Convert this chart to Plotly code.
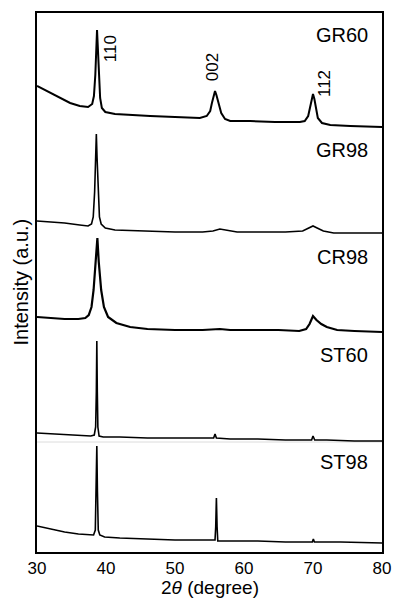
import plotly.graph_objects as go

# ---- data (2theta in degree, intensity in a.u. with stacking offsets) ----
gr60_x = [30.0, 31.9, 33.3, 34.8, 36.2, 37.4, 38.0, 38.25, 38.45, 38.6, 38.7, 38.8, 38.95, 39.15, 39.4,
          39.9, 41.3, 43.5, 46.4, 50.0, 53.6, 54.6, 55.1, 55.35, 55.65, 55.8, 56.0, 56.3, 56.7, 57.25,
          58.0, 60.9, 64.5, 68.1, 68.8, 69.3, 69.55, 69.85, 70.0, 70.2, 70.45, 70.7, 71.3, 72.5, 75.4, 80.0]
gr60_y = [466, 459, 454, 449, 446, 445, 448, 456, 477, 507, 522, 507, 477, 454, 444,
          440, 438, 437, 436, 435, 434, 436, 441, 449, 458, 461, 457, 448, 439, 433,
          431, 431, 430, 430, 431, 436, 444, 454, 458, 453, 442, 434, 429, 427, 426, 425]

gr98_x = [30.0, 32.0, 34.0, 36.2, 37.4, 37.9, 38.15, 38.35, 38.5, 38.6, 38.7, 38.85, 39.05, 39.3, 39.9,
          41.3, 45.0, 50.0, 54.0, 55.5, 56.5, 57.5, 59.0, 62.0, 66.0, 68.5, 69.5, 70.0, 70.6, 71.5,
          73.0, 76.0, 80.0]
gr98_y = [331, 330, 329, 327, 326, 328, 335, 360, 395, 418, 395, 360, 335, 328, 324,
          322, 321, 320, 320, 321, 323, 322, 320, 320, 320, 321, 324, 326, 324, 321,
          319, 319, 319]

cr98_x = [30.0, 32.0, 34.0, 36.0, 37.0, 37.5, 37.9, 38.2, 38.45, 38.65, 38.75, 38.95, 39.3, 39.7, 40.3,
          41.5, 43.5, 46.0, 50.0, 54.0, 56.5, 58.0, 62.0, 65.0, 68.0, 69.0, 69.5, 70.0, 70.5, 71.2,
          72.0, 73.5, 76.0, 80.0]
cr98_y = [235, 234, 233, 233, 234, 237, 245, 262, 290, 314, 314, 290, 262, 245, 235,
          229, 225, 223, 222, 222, 223, 222, 222, 222, 221, 223, 228, 236, 232, 228,
          225, 222, 221, 220]

st60_x = [30.0, 33.0, 36.0, 37.8, 38.3, 38.5, 38.6, 38.67, 38.74, 38.82, 39.0, 39.6, 42.0, 46.0, 50.0,
          54.0, 55.6, 55.8, 56.0, 58.0, 62.0, 66.0, 69.8, 70.0, 70.25, 72.0, 76.0, 80.0]
st60_y = [119, 118, 117, 116, 117, 125, 160, 211, 160, 125, 116, 115, 115, 114, 114,
          114, 114, 118, 114, 113, 113, 112, 112, 116, 112, 112, 111, 111]

st98_x = [30.0, 32.0, 34.0, 36.0, 37.4, 38.2, 38.45, 38.58, 38.67, 38.76, 38.88, 39.1, 39.8, 42.0, 46.0,
          50.0, 54.0, 55.8, 55.9, 56.0, 56.1, 56.2, 58.0, 62.0, 66.0, 69.9, 70.05, 70.2, 74.0, 80.0]
st98_y = [26, 23, 20, 18, 17, 17, 22, 60, 106, 60, 22, 17, 15, 14, 13,
          12, 12, 12, 25, 54, 25, 11, 11, 11, 10, 10, 13, 10, 10, 9]

sample_names = ["GR60", "GR98", "CR98", "ST60", "ST98"]
sample_label_y = [517, 402, 295, 197, 90]

peak_labels = ["110", "002", "112"]
peak_label_x = [40.6, 55.4, 71.6]
peak_label_y = [503, 485, 468]

x_ticks = [30, 40, 50, 60, 70, 80]

FONT = "Liberation Sans, Arial, sans-serif"

fig = go.Figure()
series = [(gr60_x, gr60_y, 2.0), (gr98_x, gr98_y, 1.6), (cr98_x, cr98_y, 2.2),
          (st60_x, st60_y, 1.6), (st98_x, st98_y, 1.6)]
for (xs, ys, w), name in zip(series, sample_names):
    fig.add_trace(go.Scatter(x=xs, y=ys, mode="lines", name=name,
                             line=dict(color="black", width=w), showlegend=False))

for name, yv in zip(sample_names, sample_label_y):
    fig.add_annotation(x=78.3, y=yv, text=name, showarrow=False, xanchor="right", yanchor="middle",
                       font=dict(family=FONT, size=20, color="black"))

for lab, xv, yv in zip(peak_labels, peak_label_x, peak_label_y):
    fig.add_annotation(x=xv, y=yv, text=lab, showarrow=False, textangle=-90,
                       xanchor="center", yanchor="middle",
                       font=dict(family=FONT, size=17, color="black"))

# axis titles
fig.add_annotation(xref="paper", yref="paper", x=0.5, y=0, yshift=-35, text="2<i>θ</i> (degree)",
                   showarrow=False, xanchor="center", yanchor="middle",
                   font=dict(family=FONT, size=19, color="black"))
fig.add_annotation(xref="paper", yref="paper", x=0, y=0.5, xshift=-17, text="Intensity (a.u.)",
                   showarrow=False, textangle=-90, xanchor="center", yanchor="middle",
                   font=dict(family=FONT, size=20, color="black"))

# faint separator line seen in the reference
fig.add_shape(type="line", xref="paper", x0=0, x1=1, yref="y", y0=110, y1=110,
              line=dict(color="#dcdcdc", width=1), layer="below")

fig.update_layout(
    width=394, height=599,
    margin=dict(l=37, r=12, t=13, b=47, autoexpand=False),
    paper_bgcolor="white", plot_bgcolor="white",
    font=dict(family=FONT, color="black"),
)
fig.update_xaxes(range=[30, 80], tickvals=x_ticks, ticks="", showgrid=False, zeroline=False,
                 showline=True, linecolor="black", linewidth=1.5, mirror=True, automargin=False,
                 tickfont=dict(family=FONT, size=17, color="black"))
fig.update_yaxes(range=[0, 539], showticklabels=False, ticks="", showgrid=False, zeroline=False,
                 showline=True, linecolor="black", linewidth=1.5, mirror=True, automargin=False)

fig.write_html("out.html", config={"displayModeBar": False},
               post_script="document.body.style.margin='0';document.body.style.overflow='hidden';")
